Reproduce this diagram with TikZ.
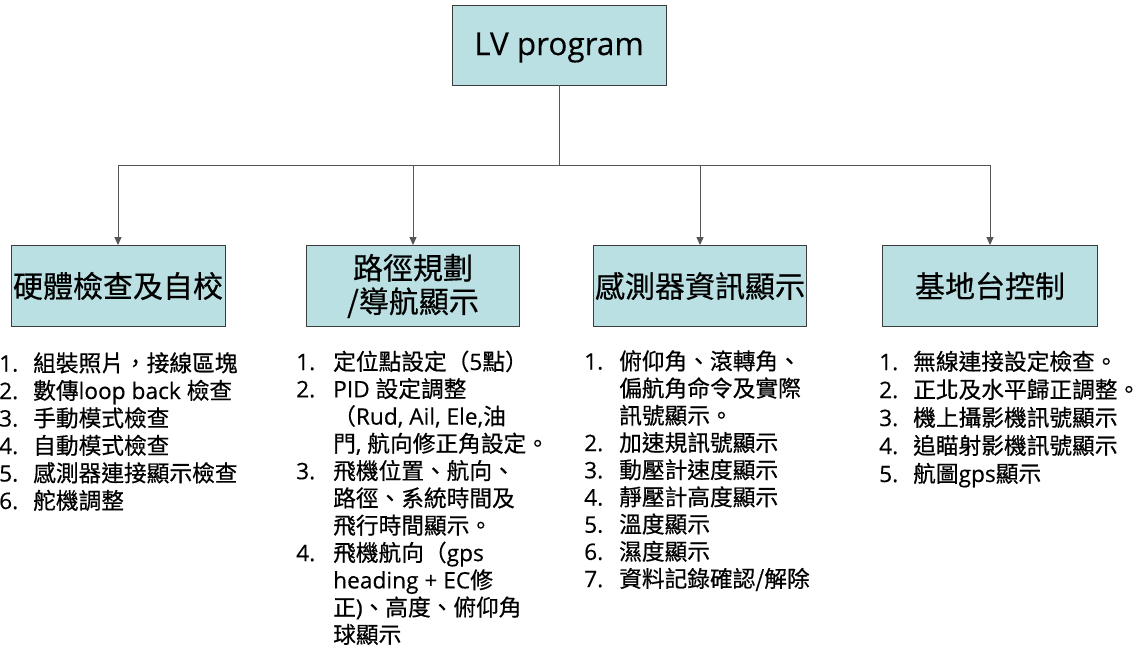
\documentclass[tikz,border=0pt]{standalone}
\usepackage{fontspec}
\setmainfont{Noto Sans CJK TC}[FakeBold=0.5]
\newfontfamily\latf{Open Sans}[FakeBold=0.3]
\usetikzlibrary{arrows.meta}
\definecolor{boxfill}{RGB}{187,224,227}
\definecolor{boxdraw}{RGB}{60,60,60}
\definecolor{linecol}{RGB}{85,85,85}
\newcommand\ltn[1]{{\latf #1}}
\begin{document}
\begin{tikzpicture}[x=1pt,y=-1pt,
  box/.style={draw=boxdraw,fill=boxfill,line width=0.9pt,inner sep=0pt,
    minimum width=214pt,minimum height=81pt,
    font=\fontsize{30}{33.5}\selectfont,align=center},
  conn/.style={draw=linecol,line width=0.9pt},
  arr/.style={conn,-{Triangle[length=8pt,width=7pt]}},
  li/.style={anchor=base west,inner sep=0pt,font=\fontsize{22.7}{27}\selectfont},
  num/.style={li,font=\fontsize{22.7}{27}\latf}]
\useasboundingbox (0,0) rectangle (1139,649);

% boxes
\node[box,minimum height=80pt,font=\fontsize{31.5}{34}\selectfont,
  text height=24pt,text depth=4pt] (top) at (559,45) {\ltn{LV program}};
\node[box] (b1) at (118,286) {硬體檢查及自校};
\node[box,minimum width=213pt] (b2) at (413,286) {路徑規劃\\/導航顯示};
\node[box,minimum width=213pt] (b3) at (700,286) {感測器資訊顯示};
\node[box,minimum width=215pt] (b4) at (990,286) {基地台控制};

% connectors
\coordinate (bus) at (559,165);
\draw[conn] (top.south) -- (bus);
\draw[conn] (b1.north |- bus) -- (b4.north |- bus);
\foreach \b in {b1,b2,b3,b4}
  \draw[arr] (\b.north |- bus) -- (\b.north);

% column 1
\foreach \t [count=\i from 0] in {{組裝照片，接線區塊},{數傳\ltn{loop back }檢查},{手動模式檢查},{自動模式檢查},{感測器連接顯示檢查},{舵機調整}}
  \node[li] (a\i) at (33,{371.5+27.5*\i}) {\t};
\foreach \i in {0,...,5}
  \node[num] (an\i) at (-1,{371.5+27.5*\i}) {\pgfmathparse{int(\i+1)}\pgfmathresult.};

% column 2
\foreach \t [count=\i from 0] in {{定位點設定（\ltn{5}點）},{\ltn{PID }設定調整},{（\ltn{Rud, Ail, Ele,}油},{門\ltn{, }航向修正角設定。},{飛機位置、航向、},{路徑、系統時間及},{飛行時間顯示。},{飛機航向（\ltn{gps}},{\ltn{heading + EC}修},{正\ltn{)}、高度、俯仰角},{球顯示}}
  \node[li] (p\i) at (333,{370+27.3*\i}) {\t};
\node[num] (pn1) at (296,370) {1.};
\node[num] (pn2) at (296,{370+27.3}) {2.};
\node[num] (pn3) at (296,{370+27.3*4}) {3.};
\node[num] (pn4) at (296,{370+27.3*7}) {4.};

% column 3
\foreach \t [count=\i from 0] in {{俯仰角、滾轉角、},{偏航角命令及實際},{訊號顯示。},{加速規訊號顯示},{動壓計速度顯示},{靜壓計高度顯示},{溫度顯示},{濕度顯示},{資料記錄確認/解除}}
  \node[li] (s\i) at (619,{369.5+27.2*\i}) {\t};
\node[num] (sn1) at (584,369.5) {1.};
\foreach \i in {3,...,8}
  \node[num] (sn\i) at (584,{369.5+27.2*\i}) {\pgfmathparse{int(\i-1)}\pgfmathresult.};

% column 4
\foreach \t [count=\i from 0] in {{無線連接設定檢查。},{正北及水平歸正調整。},{機上攝影機訊號顯示},{追瞄射影機訊號顯示},{航圖\ltn{gps}顯示}}
  \node[li] (g\i) at (913,{370+28*\i}) {\t};
\foreach \i in {0,...,4}
  \node[num] (gn\i) at (879,{370+28*\i}) {\pgfmathparse{int(\i+1)}\pgfmathresult.};
\end{tikzpicture}
\end{document}
